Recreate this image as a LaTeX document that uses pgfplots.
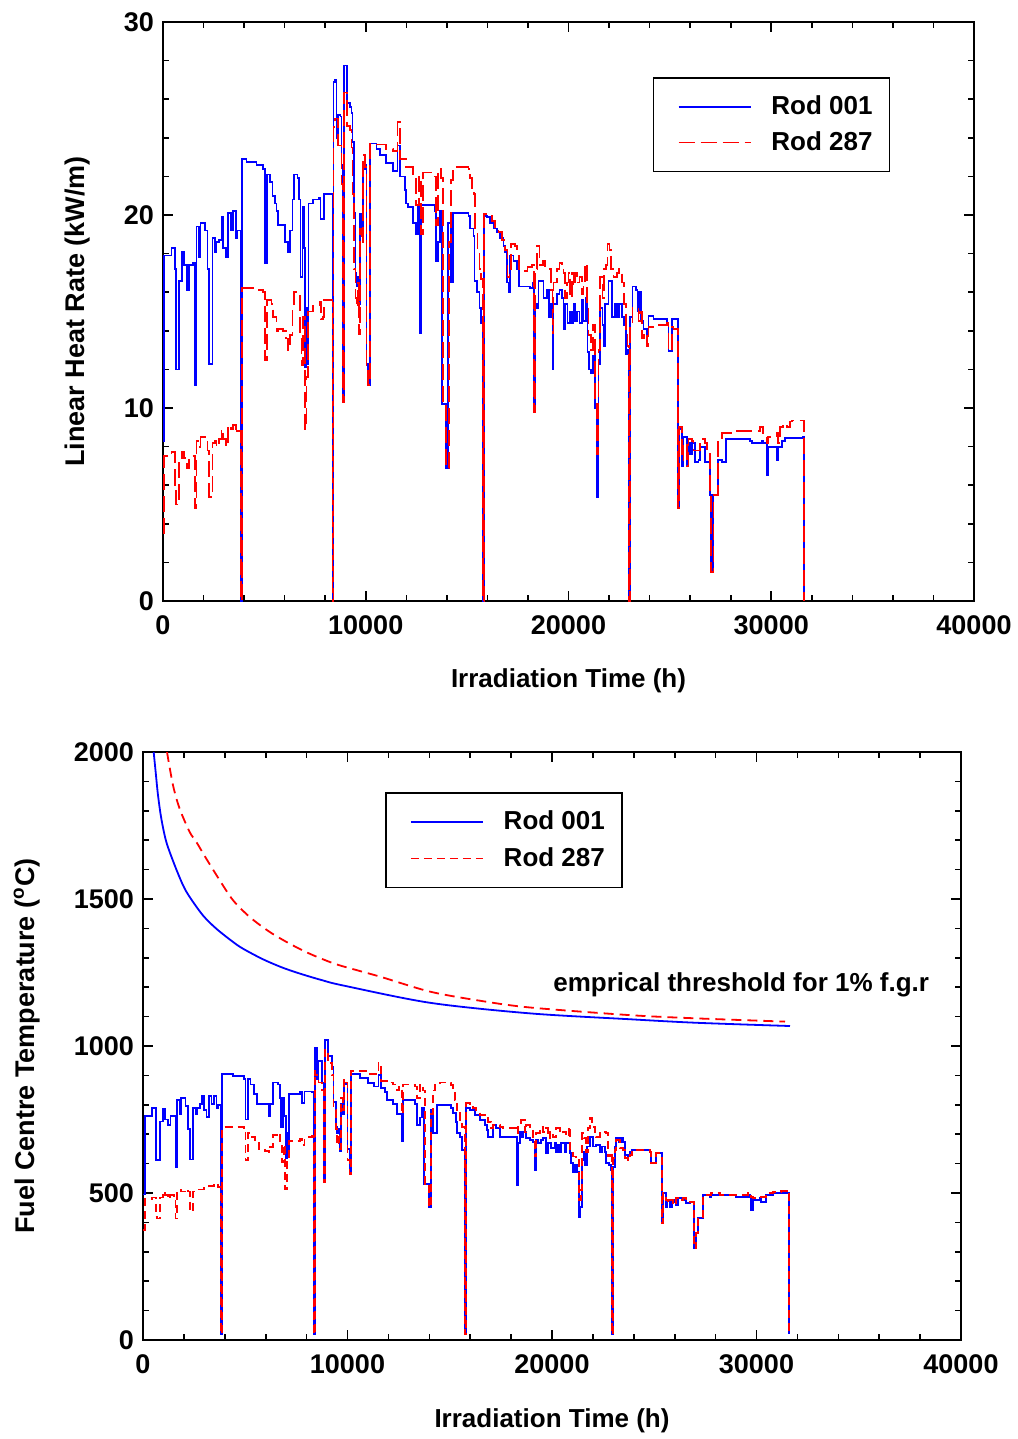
\documentclass[border=0pt]{standalone}
\usepackage{fontspec}
\setmainfont{Liberation Sans}
\usepackage{pgfplots}
\pgfplotsset{compat=1.18}
\definecolor{rblue}{RGB}{0,0,255}
\definecolor{rred}{RGB}{255,0,0}
\newcommand{\ff}{\fontsize{13bp}{15bp}\selectfont\bfseries}
\newcommand{\fl}{\fontsize{13.5bp}{15bp}\selectfont\bfseries}
\pgfplotsset{
  myax/.style={
    scale only axis,
    xmin=0, xmax=40000,
    xtick={0,10000,20000,30000,40000},
    minor x tick num=4, minor y tick num=4,
    tick align=inside,
    major tick length=5bp, minor tick length=3.2bp,
    axis line style={line width=1bp},
    every tick/.style={black, line width=0.8bp},
    scaled ticks=false,
    /pgf/number format/1000 sep={},
    /pgf/number format/assume math mode=true,
    tick label style={font=\fl},
    xticklabel shift=4bp,
    yticklabel shift=1bp,
    xlabel style={font=\ff},
    ylabel style={font=\fl},
    legend cell align=left,
    legend image code/.code={\path (-3.5bp,0bp); \draw[##1] (0bp,0bp) -- (36bp,0bp);},
    legend style={draw=black, line width=0.8bp, font=\ff, anchor=north west,
      inner xsep=8.5bp, inner ysep=9bp, row sep=7bp,
      nodes={inner sep=0bp, anchor=west},
      /tikz/every odd column/.style={column sep=10bp}},
  }
}
\begin{document}
\begin{tikzpicture}
\path[use as bounding box] (0,0) rectangle (509bp,-719.5bp);
% ---------------- top axis ----------------
\begin{axis}[myax,
  at={(81.5bp,-11bp)}, anchor=north west,
  width=405.5bp, height=289.5bp,
  ymin=0, ymax=30, ytick={0,10,20,30},
  xlabel={Irradiation Time (h)},
  ylabel={Linear Heat Rate (kW/m)},
  xlabel style={at={(axis description cs:0.5,-0.138)}, anchor=center},
  ylabel style={at={(axis description cs:-0.106,0.5)}, anchor=center},
  legend style={at={(0.604,0.905)}},
]
\addplot[const plot, color=rblue, draw=rblue, line width=0.9bp] table {
0 8.3
43 17.9
421 18.3
585 17.2
635 12.0
799 16.6
947 18.1
1045 17.4
1193 16.1
1292 17.4
1489 17.5
1571 11.2
1653 19.4
1785 17.8
1850 19.6
2064 19.2
2195 17.2
2278 12.3
2442 18.8
2557 18.1
2639 18.6
2771 18.7
2886 19.9
2968 18.3
3099 17.8
3214 20.1
3346 19.2
3461 20.2
3592 18.8
3658 19.2
3835 0
3880 22.9
4118 22.75
4611 22.6
4939 22.4
5021 17.5
5137 22.1
5268 21.7
5399 21.0
5514 20.6
5597 20.2
5679 19.5
6007 18.6
6172 18.1
6254 19.2
6385 20.8
6451 22.1
6632 21.9
6714 20.8
6779 16.8
6878 20.4
6944 18.3
7009 12.1
7075 15.2
7124 12.3
7174 20.6
7404 20.8
7700 20.9
7765 19.8
7897 19.8
7946 21.1
8360 0
8410 26.9
8472 27.0
8554 24.0
8636 25.2
8751 25.1
8800 22.6
8866 10.3
8932 27.75
9080 25.8
9211 25.6
9293 25.3
9343 23.8
9425 20.1
9490 17.0
9540 16.3
9605 16.8
9655 15.4
9704 20.05
9786 19.0
9868 22.4
9950 22.6
10033 12.3
10115 11.2
10197 23.7
10526 23.4
10690 23.1
11018 22.7
11347 22.3
11561 23.6
11676 22.0
11922 21.3
12004 20.6
12087 20.4
12333 19.6
12497 19.0
12579 20.4
12661 13.9
12744 20.5
13401 20.2
13450 17.6
13565 18.6
13647 20.2
13779 10.2
13943 6.9
14074 19.6
14189 16.5
14304 20.1
15071 19.96
15154 19.3
15318 18.9
15367 16.6
15482 16.0
15614 15.2
15679 14.4
15770 0
15844 19.96
15975 19.9
16139 19.6
16304 19.3
16468 19.1
16632 18.8
16797 18.4
16879 18.1
16961 16.5
17043 16.0
17125 17.9
17289 17.6
17454 17.2
17569 16.3
18111 16.2
18226 16.5
18308 9.8
18357 15.4
18440 15.2
18522 16.6
18768 15.7
18932 16.1
19047 14.7
19146 15.4
19212 12.0
19261 15.4
19425 15.9
19557 16.1
19672 15.7
19754 14.1
19836 15.4
19951 14.4
20083 15.0
20165 14.4
20247 15.4
20329 14.5
20411 15.0
20543 14.4
20658 15.6
20740 14.5
20855 15.7
20937 12.9
21019 12.0
21101 11.8
21200 12.7
21315 10.0
21397 5.4
21479 12.3
21561 15.2
21676 14.3
21758 13.2
21808 15.4
21972 16.6
22136 14.7
22301 15.4
22383 14.7
22498 15.4
22629 14.7
22744 14.3
22827 12.8
22909 13.0
22980 0
23040 14.7
23155 16.3
23319 16.1
23401 15.0
23484 16.0
23582 14.5
23697 14.1
23861 13.8
23943 14.75
24190 14.6
24846 14.4
24929 12.95
25093 14.6
25389 4.8
25455 8.9
25587 7.0
25669 8.5
25833 7.0
25915 8.2
25997 7.6
26080 8.2
26244 7.2
26408 7.3
26490 8.0
26737 7.2
26983 5.5
27032 1.5
27115 5.5
27361 7.3
27558 7.2
27772 8.4
28955 8.3
29037 8.2
29448 8.2
29530 8.3
29612 8.2
29776 6.5
29858 8.0
30269 7.3
30351 8.0
30515 8.3
30680 8.45
31584 8.5
31633 0
};
\addlegendentry{Rod 001}
\addplot[const plot, color=rred, draw=rred, line width=0.9bp, dash pattern=on 8bp off 3bp] table {
0 3.5
43 7.5
421 7.7
585 6.0
635 5.0
799 7.3
947 7.7
1045 7.4
1193 6.9
1292 7.5
1489 7.5
1571 4.8
1653 8.3
1785 8.0
1850 8.5
2064 8.3
2195 7.8
2278 5.4
2442 8.2
2557 8.3
2639 8.0
2771 8.4
2886 8.9
2968 8.4
3099 8.0
3214 9.1
3346 8.9
3461 9.1
3592 8.7
3658 8.8
3835 0
3880 16.2
4611 16.1
4939 16.0
5021 12.5
5137 15.6
5350 15.4
5432 14.7
5597 14.0
5679 14.1
5925 14.0
6057 13.6
6172 13.0
6254 13.8
6385 15.1
6451 16.0
6664 15.9
6747 13.6
6829 12.2
6911 14.7
6993 8.9
7075 11.6
7157 15.0
7404 15.3
7732 15.5
7782 14.6
7897 14.7
7946 15.6
8307 15.6
8360 0
8410 24.55
8472 25.0
8636 23.6
8751 23.6
8800 21.6
8866 10.3
8932 26.35
9080 24.6
9211 24.4
9293 23.5
9343 21.1
9425 17.2
9490 15.7
9540 15.2
9605 16.5
9655 13.85
9704 19.3
9786 18.6
9868 23.1
9950 22.5
10033 12.1
10115 11.2
10197 23.7
10526 23.65
11018 23.4
11347 23.3
11561 24.8
11676 22.9
12004 22.5
12333 22.0
12497 20.5
12629 22.0
12744 19.0
12826 22.2
13401 22.0
13450 19.5
13565 22.4
13730 21.9
13812 10.2
13943 6.9
14107 18.6
14222 21.8
14304 22.5
15071 22.4
15154 21.9
15236 21.4
15351 21.1
15400 19.1
15515 18.2
15614 17.2
15696 16.7
15770 0
15844 20.05
16057 19.96
16221 19.7
16386 19.3
16550 19.1
16714 18.7
16879 18.2
16994 16.8
17092 17.2
17158 18.5
17372 18.4
17454 17.9
17569 17.1
17979 17.3
18193 17.4
18308 9.8
18357 17.2
18440 18.4
18571 17.4
18735 17.6
18850 17.2
19146 16.1
19212 13.9
19261 16.5
19425 17.2
19557 17.5
19672 17.4
19754 17.0
19836 15.7
19918 16.5
20000 17.0
20083 15.7
20165 17.0
20247 16.3
20329 17.0
20411 16.5
20543 16.8
20658 15.9
20740 16.6
20822 17.5
20904 15.4
20986 13.8
21101 13.0
21200 14.3
21315 10.5
21397 7.6
21479 13.0
21561 16.8
21676 15.7
21758 17.2
21857 17.4
21923 18.5
22021 18.2
22087 17.2
22218 16.8
22383 17.0
22498 17.2
22629 16.5
22744 15.4
22827 13.8
22909 13.2
22980 0
23040 14.3
23155 15.2
23451 14.5
23533 15.0
23615 13.6
23730 13.9
23861 13.2
23943 14.2
24190 14.3
24846 14.4
24929 12.95
25093 14.2
25176 14.1
25389 4.8
25455 9.0
25587 7.3
25669 8.2
25833 7.0
25915 8.4
26080 8.3
26162 7.8
26490 8.4
26737 8.2
26819 7.6
26983 5.5
27032 1.5
27147 5.5
27361 8.45
27558 8.7
28133 8.8
29448 9.0
29612 8.6
29776 8.2
29858 8.5
30269 8.7
30351 8.2
30433 9.0
30598 9.2
30762 9.0
30926 9.3
31009 9.35
31633 0
};
\addlegendentry{Rod 287}
\end{axis}
% ---------------- bottom axis ----------------
\begin{axis}[myax,
  at={(71.5bp,-376bp)}, anchor=north west,
  width=409bp, height=294bp,
  ymin=0, ymax=2000, ytick={0,500,1000,1500,2000},
  xlabel={Irradiation Time (h)},
  ylabel={Fuel Centre Temperature (\textsuperscript{o}C)},
  xlabel style={at={(axis description cs:0.5,-0.138)}, anchor=center},
  ylabel style={at={(axis description cs:-0.142,0.5)}, anchor=center},
  legend style={at={(0.296,0.932)}, row sep=7.5bp},
]
\addplot[const plot, color=rblue, draw=rblue, line width=0.9bp] table {
0 495
81 763
455 790
618 611
829 743
975 786
1073 750
1219 730
1349 763
1593 587
1675 816
1805 770
1870 823
2081 796
2211 717
2292 614
2455 790
2569 770
2650 790
2780 803
2894 829
2975 783
3105 759
3219 829
3349 803
3463 829
3593 790
3658 799
3830 20
3870 905
4400 897
4927 889
5008 750
5122 889
5252 869
5414 836
5577 803
5902 803
6146 763
6227 803
6357 876
6601 869
6683 823
6748 724
6845 823
6910 763
6975 618
7040 704
7089 638
7138 836
7691 843
7772 807
7902 845
8260 843
8350 20
8400 995
8504 889
8585 948
8699 948
8748 876
8829 538
8910 1021
9040 968
9154 966
9236 929
9317 809
9431 724
9479 704
9561 717
9609 644
9675 803
9772 770
9837 876
9918 869
9999 651
10097 565
10162 905
10600 890
11000 875
11300 862
11512 902
11626 856
11837 843
11951 816
12244 803
12406 770
12650 677
12731 816
13301 803
13382 730
13544 757
13626 790
13740 532
13999 452
14065 783
14162 704
14276 704
14357 799
15078 788
15159 771
15289 742
15371 703
15485 691
15615 646
15740 20
15811 788
15974 782
16219 765
16463 748
16708 731
16838 714
16871 691
17115 731
17278 720
17441 691
18256 691
18289 527
18338 669
18419 708
18501 691
18582 708
18745 686
18908 680
19071 674
19153 578
19234 680
19316 669
19479 680
19560 686
19723 635
19805 669
19968 652
20131 669
20212 640
20294 663
20375 640
20457 669
20620 640
20701 669
20864 635
20946 601
21027 572
21141 595
21223 572
21304 419
21386 453
21467 612
21565 640
21630 595
21712 658
21842 691
22005 658
22168 663
22331 640
22461 658
22576 640
22657 601
22787 595
22869 578
22930 20
22983 589
23065 658
23146 686
23276 674
23358 686
23472 674
23554 629
23717 624
23831 640
23912 646
24776 640
24825 601
25069 635
25363 397
25428 501
25558 453
25640 476
25787 453
25868 470
25999 476
26080 459
26162 482
26406 476
26569 465
26732 470
26928 312
27058 363
27140 414
27384 493
27710 487
27792 493
28199 493
29014 487
29585 493
29666 487
29748 442
29829 476
30155 482
30237 470
30481 493
30807 499
31215 501
31541 502
31573 20
};
\addlegendentry{Rod 001}
\addplot[const plot, color=rred, draw=rred, line width=0.9bp, dash pattern=on 4bp off 2.5bp] table {
0 373
81 479
455 485
618 419
667 413
829 485
975 505
1073 492
1219 479
1317 492
1512 485
1593 413
1675 512
1870 505
2081 512
2211 505
2292 439
2455 505
2650 512
2975 518
3219 525
3463 532
3658 521
3830 20
3870 724
4927 710
5008 611
5122 704
5333 690
5496 671
5658 651
5983 644
6146 638
6227 657
6357 697
6634 704
6715 671
6797 605
6878 664
6959 512
7040 611
7122 677
7691 684
7772 664
7902 690
8260 693
8350 20
8400 915
8423 902
8585 876
8748 849
8829 538
8910 988
9040 949
9154 942
9236 902
9317 783
9431 717
9479 664
9561 704
9609 651
9675 823
9772 783
9837 889
9918 876
9999 611
10097 565
10162 915
11000 905
11512 942
11626 882
11918 876
12244 869
12406 849
12536 862
12650 770
12731 869
13301 862
13382 823
13544 869
13707 849
13788 532
13999 452
14065 770
14162 849
14276 869
14520 876
15078 867
15159 856
15241 816
15355 771
15485 742
15615 725
15740 20
15811 805
15974 796
16137 788
16300 776
16463 765
16708 759
16871 742
17034 720
17115 731
17441 725
17604 720
18175 720
18256 703
18338 737
18501 748
18664 708
18745 731
18908 720
19071 680
19153 624
19234 703
19397 725
19560 708
19723 720
19805 686
19919 708
20049 691
20212 720
20375 703
20538 708
20701 691
20815 725
20897 635
21027 624
21190 618
21320 476
21402 510
21467 703
21565 686
21646 640
21761 720
21875 754
21972 725
22087 708
22168 691
22331 703
22494 708
22624 703
22739 624
22853 640
22930 20
22983 618
23065 646
23146 680
23309 652
23472 646
23554 618
23717 612
23831 629
23912 646
24776 640
24825 601
25069 635
25363 397
25428 499
25558 476
25673 465
25787 476
25917 459
26080 482
26162 476
26406 482
26569 470
26732 470
26928 312
27058 363
27140 419
27384 493
27792 499
28199 493
29014 493
29585 499
29748 487
29829 482
30155 487
30481 501
30807 504
31215 508
31541 510
31573 20
};
\addlegendentry{Rod 287}
\addplot[smooth, tension=0.5, color=rblue, line width=0.9bp, forget plot] table {
522 2000
619 1932
734 1853
897 1773
1141 1694
1549 1615
1956 1547
2282 1507
2934 1444
3586 1399
4401 1354
4890 1331
5868 1295
6846 1266
7824 1243
8802 1223
9780 1206
14034 1147
18924 1111
23814 1091
27074 1079
31638 1068
};
\addplot[smooth, tension=0.5, color=rred, line width=0.9bp, dash pattern=on 5bp off 3bp, forget plot] table {
1174 2000
1467 1887
1793 1807
2282 1728
2608 1694
3097 1637
3749 1564
4401 1496
5216 1439
6194 1388
7172 1348
8150 1314
9128 1286
9780 1271
11589 1236
14034 1185
16479 1154
18924 1131
23814 1105
27074 1094
31394 1083
};
\node[anchor=west, font=\ff, inner sep=0pt] at (axis cs:20050,1207) {emprical threshold for 1\% f.g.r};
\end{axis}
\end{tikzpicture}
\end{document}
